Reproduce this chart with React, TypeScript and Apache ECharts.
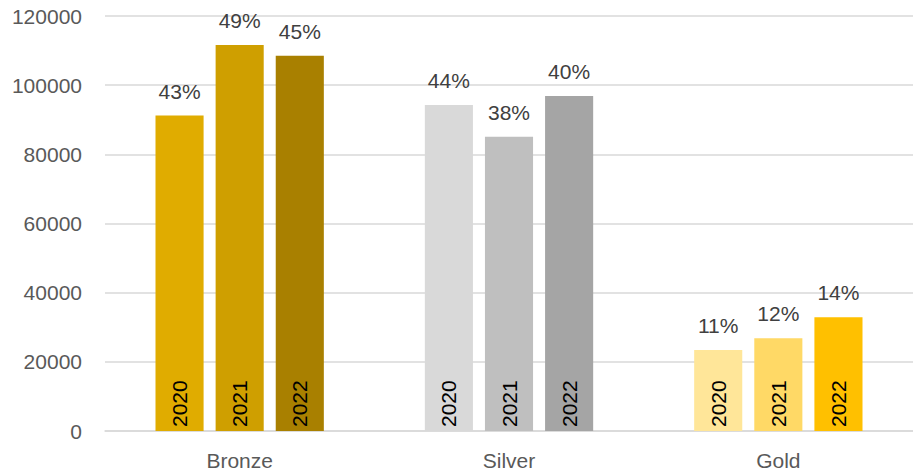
import React, { useEffect, useRef } from "react";
import * as echarts from "echarts";

const categories = ["Bronze", "Silver", "Gold"];
const years = ["2020", "2021", "2022"];
const values2020 = [91200, 94300, 23400];
const values2021 = [111600, 85100, 26800];
const values2022 = [108500, 96900, 32900];
const pct2020 = ["43%", "44%", "11%"];
const pct2021 = ["49%", "38%", "12%"];
const pct2022 = ["45%", "40%", "14%"];
const colors2020 = ["#E0AC00", "#D9D9D9", "#FFE699"];
const colors2021 = ["#CF9F00", "#BFBFBF", "#FFD966"];
const colors2022 = ["#A98000", "#A5A5A5", "#FFC000"];
const yTicks = { min: 0, max: 120000, interval: 20000 };

const FONT = "Liberation Sans";

export default function App() {
  const ref = useRef<HTMLDivElement>(null);
  useEffect(() => {
    if (!ref.current) return;
    const chart = echarts.init(ref.current, undefined, { renderer: "svg" });
    const valueSets = [values2020, values2021, values2022];
    const pctSets = [pct2020, pct2021, pct2022];
    const colorSets = [colors2020, colors2021, colors2022];
    const series: any[] = [];
    years.forEach((y, i) => {
      series.push({
        type: "bar",
        name: y,
        stack: "s" + y,
        barGap: "25%",
        barCategoryGap: "37.5%",
        data: valueSets[i].map((v, j) => ({
          value: v,
          itemStyle: { color: colorSets[i][j] },
        })),
        label: {
          show: true,
          position: "insideBottom",
          rotate: 90,
          align: "left",
          verticalAlign: "middle",
          distance: 8,
          offset: [-4, 0],
          formatter: () => y,
          color: "#000000",
          fontFamily: FONT,
          fontSize: 21,
        },
      });
    });
    years.forEach((y, i) => {
      series.push({
        type: "bar",
        name: y + "pct",
        stack: "s" + y,
        data: valueSets[i].map(() => 0),
        itemStyle: { color: "transparent" },
        label: {
          show: true,
          position: "top",
          distance: 14,
          formatter: (p: any) => pctSets[i][p.dataIndex],
          color: "#404040",
          fontFamily: FONT,
          fontSize: 21,
        },
      });
    });
    chart.setOption({
      animation: false,
      grid: { left: 105, right: 0, top: 16, bottom: 45 },
      xAxis: {
        type: "category",
        data: categories,
        axisLine: { show: true, lineStyle: { color: "#D9D9D9", width: 1.5 } },
        axisTick: { show: false },
        axisLabel: { color: "#595959", fontFamily: FONT, fontSize: 21, margin: 19 },
      },
      yAxis: {
        type: "value",
        min: yTicks.min,
        max: yTicks.max,
        interval: yTicks.interval,
        axisLine: { show: false },
        axisTick: { show: false },
        splitLine: { lineStyle: { color: "#D9D9D9", width: 1.5 } },
        axisLabel: {
          color: "#595959",
          fontFamily: FONT,
          fontSize: 21,
          margin: 23,
          formatter: (v: number) => String(v),
        },
      },
      series,
    });
    return () => chart.dispose();
  }, []);
  return (
    <div
      ref={ref}
      style={{ position: "fixed", left: 0, top: 0, width: 913, height: 476, background: "#fff" }}
    />
  );
}
